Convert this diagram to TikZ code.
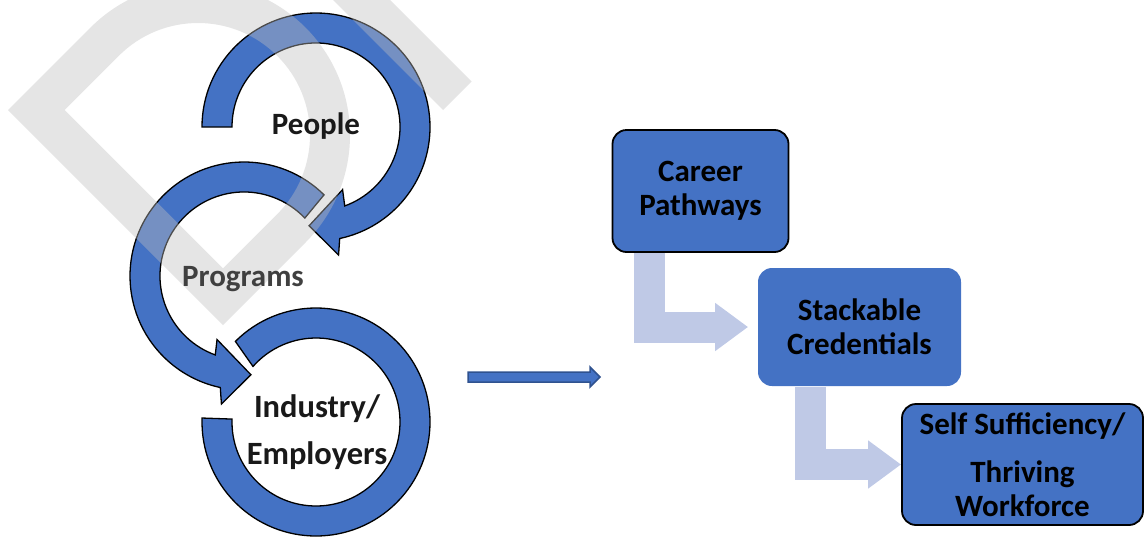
\documentclass[tikz,border=0pt]{standalone}
\usepackage{fontspec}
\setmainfont{Carlito}
\usetikzlibrary{arrows.meta}

\definecolor{officeblue}{RGB}{68,114,196}
\definecolor{arrowedge}{RGB}{47,82,143}
\definecolor{paleblue}{RGB}{191,201,230}

\tikzset{every picture/.style={line width=0.75pt}}
\tikzset{
  ring/.style={fill=officeblue, draw=black, line width=1.3},
  looplabel/.style={font=\bfseries\fontsize{31}{47}\selectfont, text=black!90, align=center, inner sep=0},
  card/.style={rounded corners=14, fill=officeblue, draw=black, line width=1.8,
    font=\bfseries\fontsize{31}{34}\selectfont, align=center, inner sep=0},
  bent/.style={line width=31, draw=paleblue, -{Triangle[length=33pt,width=46pt]}},
  flowarrow/.style={fill=officeblue, draw=arrowedge, line width=1.5},
  watermark/.style={fill=black!25, fill opacity=0.4}
}

\begin{document}
\begin{tikzpicture}[x=1pt,y=1pt,yscale=-1]
\useasboundingbox (0,0) rectangle (1148,541);

%Circular Arrow People
\draw [ring, shift={(316,127)}] (180:114) arc[start angle=180, end angle=438, radius=114] -- (440:130) -- (454:99) -- (427:68) -- (430:84) arc[start angle=430, end angle=180, radius=84] -- cycle;
%Circular Arrow Programs
\draw [ring, shift={(244,276)}] (-45.4:114) arc[start angle=-45.4, end angle=-258, radius=114] -- (-260:130) -- (-274:99) -- (-247:69) -- (-250:84) arc[start angle=-250, end angle=-43.6, radius=84] -- cycle;
%Circular Arrow Industry
\draw [ring, shift={(316,422)}] (-135:114) arc[start angle=-135, end angle=182, radius=114] -- (182:84) arc[start angle=182, end angle=-138.6, radius=84] -- cycle;

%Watermark
\fill [watermark, even odd rule] (8,110) -- (223,325) -- (305.5,242.5) arc[start angle=45, end angle=-135, radius=152] -- cycle (64.6,110) -- (223,268.4) -- (277.2,214.2) arc[start angle=45, end angle=-135, radius=112] -- cycle;
\fill [watermark] (323,-10) -- (443,110) -- (471.5,81.5) -- (380,-10) -- cycle;

% Text Node
\node [looplabel] (people) at (316,126) {People};
% Text Node
\node [looplabel, text=black!75] (programs) at (243,279) {Programs};
% Text Node
\node [looplabel, font=\bfseries\fontsize{32.5}{47}\selectfont] (industry) at (317,432) {Industry/\\Employers};

%Block Arrow
\coordinate (flowtail) at (468,377);
\coordinate (flowtip) at (600,377);
\draw [flowarrow] (flowtail) ++(0,-5) -- ++(122,0) -- ++(0,-5) -- (flowtip) -- ++(-10,10) -- ++(0,-5) -- ++(-122,0) -- cycle;

% Boxes
\node [card, minimum width=176, minimum height=122] (career) at (700.5,191) {Career\\Pathways};
\node [card, draw=none, minimum width=203, minimum height=118] (stack) at (859.5,327) {Stackable\\Credentials};
\node [card, minimum width=241, minimum height=121] (self) at (1022.5,464.5) {Self Sufficiency/\\[14pt]Thriving\\Workforce};

%Bent Arrows
\draw [bent, shorten >=9] ([xshift=38]career.south west) |- (stack.west);
\draw [bent] ([xshift=53]stack.south west) |- (self.west);
\end{tikzpicture}
\end{document}
